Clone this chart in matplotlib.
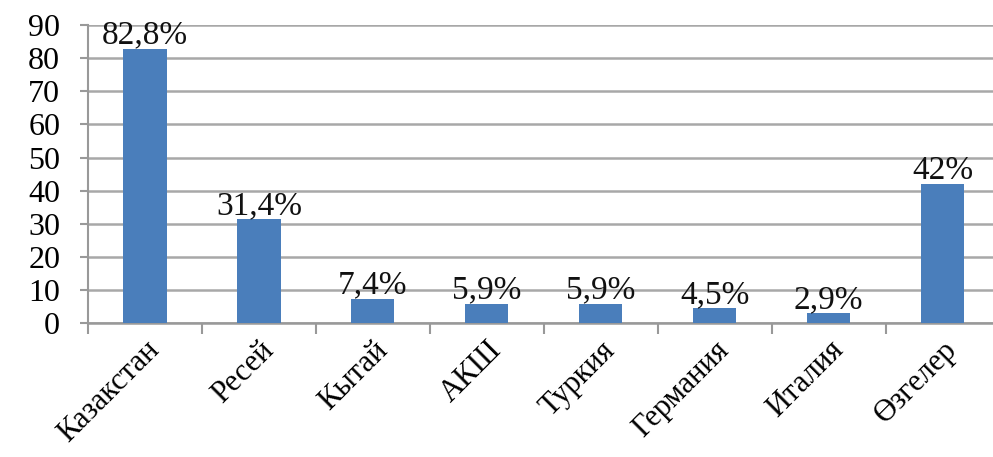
import numpy as np
import matplotlib.pyplot as plt

# Данные
countries = ['Казакстан', 'Ресей', 'Кытай', 'АКШ', 'Туркия', 'Германия', 'Италия', 'Өзгелер']
values = [82.8, 31.4, 7.4, 5.9, 5.9, 4.5, 2.9, 42]
labels = ['82,8%', '31,4%', '7,4%', '5,9%', '5,9%', '4,5%', '2,9%', '42%']
yticks = [0, 10, 20, 30, 40, 50, 60, 70, 80, 90]

plt.rcParams['font.family'] = ['Liberation Serif', 'DejaVu Serif']

fig = plt.figure(figsize=(9.93, 4.57), dpi=100)
ax = fig.add_axes([0.0886, 0.293, 0.918, 0.652])

x = np.arange(len(countries))
ax.bar(x, values, width=0.38, color='#4a7ebb', zorder=3)

# Подписи над столбцами
for xi, v, lab in zip(x, values, labels):
    ax.text(xi, v - 0.5, lab, ha='center', va='bottom', fontsize=24, color='#111111', zorder=4)

ax.set_xlim(-0.5, len(countries) - 0.5)
ax.set_ylim(0, 90)
ax.set_yticks(yticks)
ax.tick_params(axis='y', labelsize=23, length=6, width=1.5, color='#999999', pad=14)

# Метки категорий и засечки между ними
ax.set_xticks(x)
ax.set_xticklabels(countries, rotation=45, ha='right', rotation_mode='anchor', fontsize=22)
ax.tick_params(axis='x', which='major', length=0, pad=9)
ax.set_xticks(np.arange(-0.5, len(countries), 1), minor=True)
ax.tick_params(axis='x', which='minor', length=8, width=1.5, color='#999999')

ax.grid(axis='y', color='#a8a8a8', linewidth=1.8, zorder=0)
for s in ['top', 'right']:
    ax.spines[s].set_visible(False)
ax.spines['left'].set_color('#999999')
ax.spines['bottom'].set_color('#999999')
ax.spines['left'].set_linewidth(1.5)
ax.spines['bottom'].set_linewidth(1.8)

fig.savefig('out.png', dpi=100)
